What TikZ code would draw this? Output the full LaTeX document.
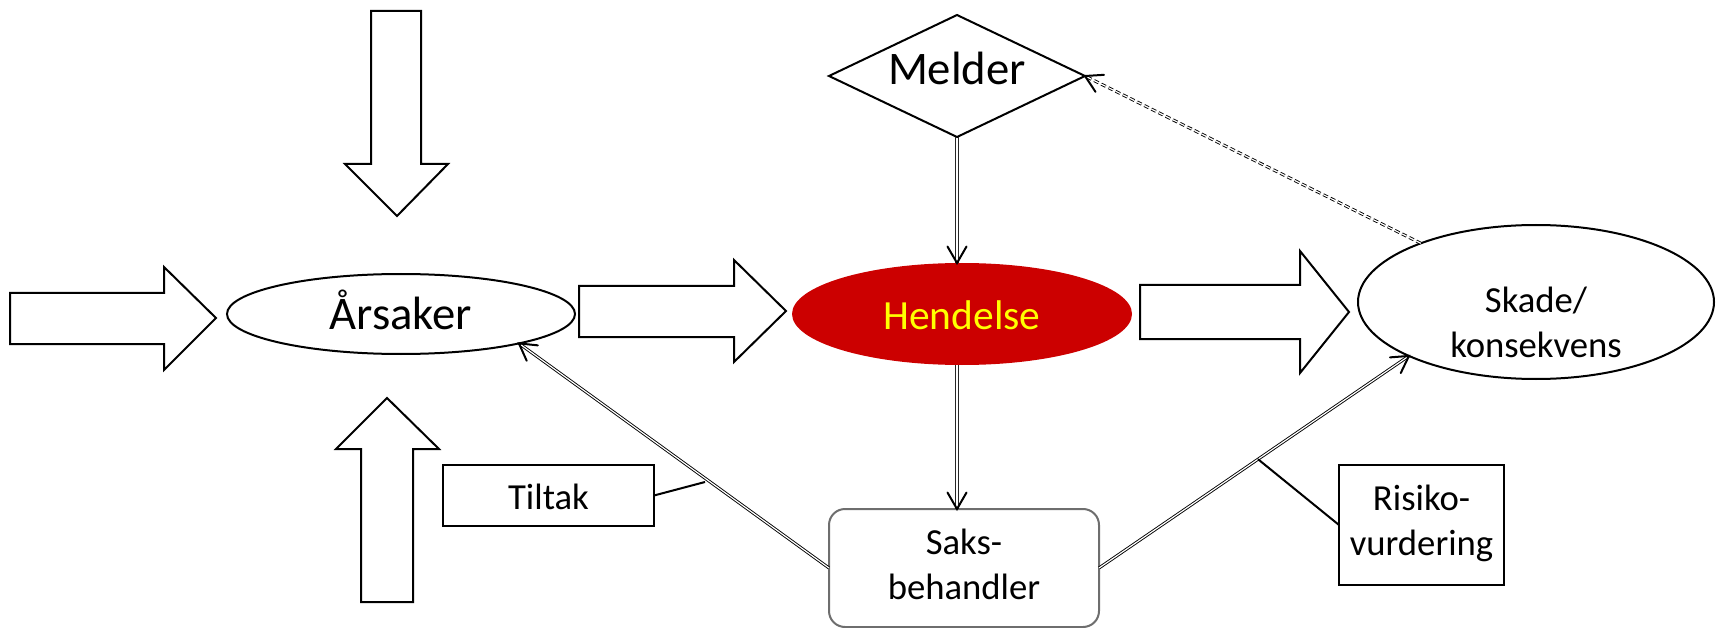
\documentclass[tikz,border=0pt]{standalone}
\usepackage{fontspec}
\setmainfont{Carlito}
\usetikzlibrary{shapes.geometric,calc}
\definecolor{hendred}{HTML}{CC0000}
\definecolor{hendyellow}{HTML}{FFFF00}
\definecolor{saksgray}{HTML}{6E6E6E}
\newcommand\basedtext[2]{\raisebox{#1}[0pt][0pt]{#2}}
\newcommand\twolines[3]{\raisebox{#1}[0pt][0pt]{\begin{tabular}[t]{@{}c@{}}#2\\#3\end{tabular}}}
\begin{document}
\begin{tikzpicture}[x=1pt,y=-1pt,
  every node/.style={inner sep=0pt, outer sep=0pt},
  blockarrow/.style={draw=black, line width=2pt, fill=white, line join=miter},
  oval/.style={ellipse, draw=black, line width=2pt},
  bigtext/.style={font=\fontsize{46.7}{56}\selectfont},
  midtext/.style={font=\fontsize{36.7}{45}\selectfont},
  conn/.style={draw=black, line width=0.9pt, double=white, double distance=1.2pt},
  rail/.style={draw=black!85, line width=0.9pt},
  tipline/.style={draw=black, line width=2pt, line cap=round, line join=miter},
  labbox/.style={rectangle, draw=black, line width=2pt},
  pointer/.style={draw=black, line width=2pt}
]
\useasboundingbox (0,0) rectangle (1721,628);

% block arrows
\draw[blockarrow] (371,11) -- (421,11) -- (421,164) -- (448,164) -- (397,216) -- (345,164) -- (371,164) -- cycle;
\draw[blockarrow] (10,293) -- (164,293) -- (164,267) -- (216,318) -- (164,370) -- (164,344) -- (10,344) -- cycle;
\draw[blockarrow] (361,602) -- (361,449) -- (336,449) -- (387,398) -- (439,449) -- (413,449) -- (413,602) -- cycle;
\draw[blockarrow] (579,286) -- (734,286) -- (734,260) -- (786,311) -- (734,362) -- (734,337) -- (579,337) -- cycle;
\draw[blockarrow] (1140,285) -- (1300,285) -- (1300,251) -- (1349,312) -- (1300,373) -- (1300,339) -- (1140,339) -- cycle;

% nodes
\node[oval, minimum width=348pt, minimum height=80pt, bigtext] (ars) at (401,314) {\basedtext{-16pt}{Årsaker}};
\node[ellipse, fill=hendred, minimum width=340pt, minimum height=102pt, text=hendyellow, font=\fontsize{41.5}{50}\selectfont] (hend) at (962,314) {\basedtext{-15pt}{Hendelse}};
\node[oval, minimum width=356pt, minimum height=154pt, midtext] (skade) at (1536,302) {\twolines{-10pt}{Skade/}{konsekvens}};
\node[diamond, aspect=2.2, draw=black, line width=2pt, minimum width=256pt, minimum height=122pt, bigtext] (melder) at (957,76) {\basedtext{-9pt}{Melder}};
\node[rectangle, rounded corners=16pt, draw=saksgray, line width=2pt, minimum width=270pt, minimum height=118pt, midtext] (saks) at (964,568) {\twolines{14pt}{Saks-}{behandler}};
\node[labbox, minimum width=211pt, minimum height=61pt, midtext] (tiltak) at (548.5,495.5) {\basedtext{-14pt}{Tiltak}};
\node[labbox, minimum width=165pt, minimum height=120pt, midtext] (risiko) at (1421.5,525) {\twolines{15pt}{Risiko-}{vurdering}};

% connector end points
\coordinate (mbot) at (melder.south);
\coordinate (htop) at (melder.south |- hend.north);
\coordinate (hbot) at (melder.south |- hend.south);
\coordinate (stop) at (melder.south |- saks.north);
\coordinate (arsin) at (ars.-14);
\coordinate (skin) at (skade.203);
\coordinate (skout) at (skade.153);
\coordinate (mright) at (melder.east);

% vertical connectors (two thin rails)
\draw[rail, transform canvas={xshift=-1.1pt}] (mbot) -- (htop);
\draw[rail, transform canvas={xshift=1.1pt}] (mbot) -- (htop);
\draw[tipline] ($(htop)!19pt!-30:(mbot)$) -- (htop) -- ($(htop)!19pt!30:(mbot)$);
\draw[rail, transform canvas={xshift=-1.1pt}] (hbot) -- (stop);
\draw[rail, transform canvas={xshift=1.1pt}] (hbot) -- (stop);
\draw[tipline] ($(stop)!19pt!-30:(hbot)$) -- (stop) -- ($(stop)!19pt!30:(hbot)$);

% slanted connectors
\draw[conn] (saks.west) -- (arsin);
\draw[tipline] ($(arsin)!19pt!-30:(saks.west)$) -- (arsin) -- ($(arsin)!19pt!30:(saks.west)$);
\draw[conn] (saks.east) -- (skin);
\draw[tipline] ($(skin)!19pt!-30:(saks.east)$) -- (skin) -- ($(skin)!19pt!30:(saks.east)$);
\draw[conn, dash pattern=on 5pt off 3pt] (skout) -- (mright);
\draw[tipline] ($(mright)!19pt!-30:(skout)$) -- (mright) -- ($(mright)!19pt!30:(skout)$);

% label pointers
\coordinate (tiltakend) at (705,482);
\coordinate (risikoend) at ($(saks.east)!0.513!(skin)$);
\draw[pointer] (tiltak.east) -- (tiltakend);
\draw[pointer] (risiko.west) -- (risikoend);
\end{tikzpicture}
\end{document}
